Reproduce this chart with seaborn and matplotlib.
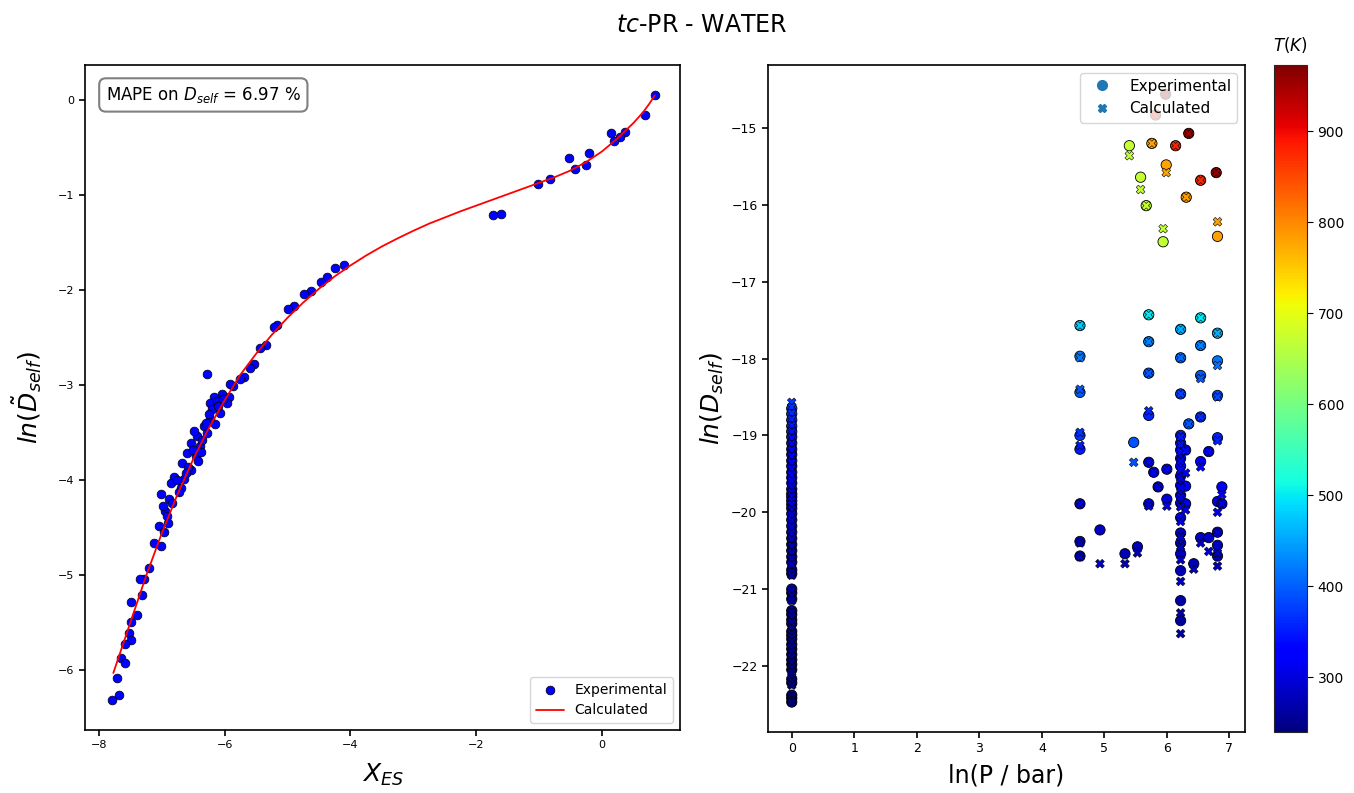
import numpy as np
import pandas as pd
import matplotlib
matplotlib.use("Agg")
import matplotlib.pyplot as plt
from matplotlib.lines import Line2D
import seaborn as sns

# ---------------- Left panel data ----------------
x_es_exp = [0.84, 0.68, 0.36, 0.28, 0.19, 0.14, -0.20, -0.25, -0.43, -0.53, -0.82, -1.02,
            -1.61, -1.73,
            -4.10, -4.24, -4.37, -4.47, -4.63, -4.74, -4.90, -5.00, -5.16, -5.22, -5.35, -5.43,
            -5.54, -5.59, -5.70, -5.75, -5.86, -5.91, -6.04, -5.93, -6.17, -6.23, -6.12, -5.96,
            -6.28, -6.07, -6.23, -6.15, -6.33, -6.44, -6.28, -6.54, -6.39, -6.60, -6.46, -6.68,
            -6.54, -6.81, -6.65, -6.86, -7.02, -6.70,
            -6.36, -6.50, -6.42, -6.58, -6.62, -6.75, -6.30, -6.20, -6.10, -6.02, -6.72, -6.88,
            -6.95, -6.25, -6.48, -6.38,
            -6.98, -6.83, -7.04, -6.92, -6.96, -6.90, -7.13, -7.01, -7.20, -7.28, -7.34, -7.31,
            -7.49, -7.40, -7.49, -7.52, -7.49, -7.59, -7.65, -7.59, -7.71, -7.68, -7.79]
ln_d_exp = [0.05, -0.16, -0.33, -0.39, -0.43, -0.35, -0.56, -0.68, -0.72, -0.61, -0.83, -0.88,
            -1.20, -1.21,
            -1.74, -1.77, -1.86, -1.91, -2.01, -2.04, -2.17, -2.20, -2.37, -2.39, -2.58, -2.61,
            -2.78, -2.82, -2.91, -2.94, -3.01, -2.99, -3.09, -3.12, -3.12, -3.19, -3.17, -3.19,
            -2.88, -3.29, -3.36, -3.41, -3.43, -3.54, -3.50, -3.61, -3.64, -3.71, -3.75, -3.82,
            -3.89, -3.97, -3.99, -4.03, -4.15, -4.08,
            -3.58, -3.68, -3.80, -3.86, -3.93, -4.00, -3.40, -3.25, -3.22, -3.15, -4.12, -4.20,
            -4.32, -3.30, -3.48, -3.70,
            -4.27, -4.24, -4.48, -4.38, -4.55, -4.45, -4.66, -4.69, -4.92, -5.04, -5.04, -5.21,
            -5.28, -5.42, -5.49, -5.61, -5.68, -5.73, -5.87, -5.93, -6.08, -6.26, -6.31]

x_es_calc = [-7.77, -7.50, -7.25, -7.00, -6.75, -6.50, -6.25, -6.00, -5.75, -5.50, -5.25,
             -5.00, -4.75, -4.50, -4.25, -4.00, -3.75, -3.50, -3.25, -3.00, -2.75, -2.50,
             -2.25, -2.00, -1.75, -1.50, -1.25, -1.00, -0.75, -0.50, -0.25, 0.00, 0.25,
             0.50, 0.65, 0.75, 0.84]
ln_d_calc = [-6.03, -5.50, -5.01, -4.56, -4.15, -3.78, -3.45, -3.16, -2.89, -2.67, -2.47,
             -2.29, -2.13, -1.985, -1.855, -1.74, -1.635, -1.54, -1.455, -1.375, -1.30, -1.235,
             -1.17, -1.11, -1.05, -0.99, -0.93, -0.87, -0.81, -0.74, -0.65, -0.54, -0.40,
             -0.24, -0.13, -0.04, 0.05]

# ---------------- Right panel data ----------------
ln_p = ([0.0] * 52 +
        [4.61] * 8 + [4.93, 5.33, 5.53, 5.47] +
        [5.71] * 6 + [5.79, 5.86, 6.00, 6.00] +
        [6.22] * 19 + [6.35, 6.30, 6.30, 6.30, 6.43] +
        [6.54] * 6 + [6.67, 6.67] +
        [6.81] * 8 + [6.88, 6.88] +
        [5.40, 5.76, 6.14, 6.35, 5.99, 5.58, 6.79, 6.54, 6.31, 5.67, 5.94, 6.81, 5.98, 5.82])
temp_k = ([373, 368, 362, 356, 350, 345, 338, 333, 328, 323, 318, 313, 308, 305, 301, 298, 298,
           298, 298, 293, 290, 287, 284, 281, 279, 277, 275, 273, 272, 270, 268, 263, 262, 260,
           257, 256, 254, 253, 251, 250, 249, 248, 247, 246, 245, 244, 243, 242, 241, 240, 240, 240] +
          [480, 420, 395, 370, 350, 305, 280, 275] + [285, 275, 280, 390] +
          [500, 425, 395, 360, 320, 300] + [310, 300, 315, 298] +
          [460, 410, 380, 350, 345, 340, 330, 325, 318, 312, 308, 303, 298, 290, 285, 280, 275, 265, 260] +
          [395, 340, 320, 305, 280] +
          [500, 425, 395, 365, 330, 290] + [320, 290] +
          [460, 415, 385, 355, 305, 290, 282, 278] + [320, 310] +
          [670, 780, 880, 960, 780, 670, 958, 878, 785, 670, 668, 782, 965, 885])
ln_dself_exp = ([-18.65, -18.72, -18.80, -18.88, -18.95, -19.02, -19.10, -19.18, -19.25, -19.33,
                 -19.40, -19.48, -19.55, -19.62, -19.70, -19.76, -19.80, -19.85, -19.90, -19.95,
                 -20.02, -20.10, -20.18, -20.26, -20.34, -20.42, -20.50, -20.58, -20.65, -20.75,
                 -20.80, -21.00, -21.05, -21.13, -21.28, -21.33, -21.40, -21.45, -21.55, -21.60,
                 -21.65, -21.72, -21.78, -21.85, -21.92, -21.98, -22.05, -22.17, -22.22, -22.38,
                 -22.42, -22.47] +
                [-17.57, -17.97, -18.44, -19.00, -19.18, -19.89, -20.38, -20.57] +
                [-20.23, -20.54, -20.45, -19.09] +
                [-17.43, -17.78, -18.19, -18.74, -19.35, -19.89] + [-19.48, -19.67, -19.44, -19.83] +
                [-17.62, -17.99, -18.46, -19.00, -19.10, -19.19, -19.30, -19.40, -19.53, -19.65,
                 -19.78, -19.88, -20.07, -20.27, -20.40, -20.54, -20.76, -21.15, -21.41] +
                [-18.85, -19.19, -19.66, -19.89, -20.67] +
                [-17.47, -17.83, -18.22, -18.76, -19.34, -20.33] + [-19.21, -20.33] +
                [-17.67, -18.03, -18.48, -19.03, -19.86, -20.26, -20.43, -20.57] + [-19.67, -19.89] +
                [-15.23, -15.20, -15.23, -15.07, -15.48, -15.64, -15.58, -15.68, -15.90, -16.01,
                 -16.48, -16.41, -14.56, -14.83])
ln_dself_calc = ([-18.57, -18.63, -18.71, -18.79, -18.87, -18.95, -19.03, -19.11, -19.19, -19.27,
                  -19.35, -19.43, -19.51, -19.59, -19.67, -19.74, -19.79, -19.85, -19.90, -19.96,
                  -20.03, -20.11, -20.19, -20.27, -20.35, -20.44, -20.52, -20.60, -20.68, -20.78,
                  -20.82, -21.02, -21.08, -21.15, -21.30, -21.36, -21.43, -21.50, -21.58, -21.63,
                  -21.68, -21.75, -21.82, -21.88, -21.95, -22.02, -22.08, -22.20, -22.25, -22.40,
                  -22.44, -22.47] +
                 [-17.57, -17.99, -18.40, -18.96, -19.13, -19.89, -20.40, -20.58] +
                 [-20.67, -20.67, -20.53, -19.35] +
                 [-17.43, -17.78, -18.19, -18.68, -19.35, -19.92] + [-19.48, -19.67, -19.44, -19.92] +
                 [-17.62, -17.99, -18.46, -19.02, -19.12, -19.21, -19.33, -19.45, -19.56, -19.68,
                  -19.80, -19.93, -20.12, -20.32, -20.45, -20.62, -20.90, -21.31, -21.58] +
                 [-18.85, -19.20, -19.49, -19.97, -20.74] +
                 [-17.47, -17.83, -18.26, -18.76, -19.41, -20.40] + [-19.21, -20.51] +
                 [-17.67, -18.09, -18.50, -19.07, -20.00, -20.26, -20.53, -20.70] + [-19.77, -19.89] +
                 [-15.36, -15.20, -15.23, -15.07, -15.58, -15.80, -15.58, -15.68, -15.90, -16.01,
                  -16.31, -16.22, -14.56, -14.83])

# ---------------- Figure ----------------
sns.set_style("ticks")
plt.rcParams["font.family"] = ["DejaVu Sans"]
plt.rcParams["mathtext.fontset"] = "dejavusans"
plt.rcParams["text.color"] = "black"
plt.rcParams["axes.labelcolor"] = "black"
plt.rcParams["xtick.color"] = "black"
plt.rcParams["ytick.color"] = "black"

jet = matplotlib.colormaps["jet"]
t_norm = plt.Normalize(240, 973)

fig = plt.figure(figsize=(13.54, 7.93), dpi=100)
ax1 = fig.add_axes([0.0628, 0.0795, 0.4394, 0.8385])
ax2 = fig.add_axes([0.5672, 0.0769, 0.3523, 0.8411])
cax = fig.add_axes([0.941, 0.0769, 0.0244, 0.8411])

fig.text(0.518, 0.968, r"$\it{tc}$-PR - WATER", ha="center", va="center", fontsize=17)

# Left panel
left_exp = pd.DataFrame({"x": x_es_exp, "y": ln_d_exp})
left_calc = pd.DataFrame({"x": x_es_calc, "y": ln_d_calc})
sns.scatterplot(data=left_exp, x="x", y="y", ax=ax1, color="#0000ff", edgecolor="black",
                linewidth=0.5, s=40, zorder=2, label="Experimental")
sns.lineplot(data=left_calc, x="x", y="y", ax=ax1, color="red", linewidth=1.3, sort=False,
             estimator=None, zorder=3, label="Calculated")
ax1.set_xlim(-8.22, 1.24)
ax1.set_ylim(-6.63, 0.37)
ax1.set_xticks([-8, -6, -4, -2, 0])
ax1.set_yticks([0, -1, -2, -3, -4, -5, -6])
ax1.tick_params(labelsize=8, length=4, width=1.2)
ax1.set_xlabel(r"$X_{ES}$", fontsize=18, labelpad=8)
ax1.set_ylabel(r"$ln(\tilde{D}_{self})$", fontsize=18, labelpad=10)
ax1.text(0.035, 0.955, r"MAPE on $D_{self}$ = 6.97 %", transform=ax1.transAxes, fontsize=12,
         va="center", ha="left",
         bbox=dict(boxstyle="round,pad=0.4", facecolor="white", edgecolor="gray", linewidth=1.5))
ax1.legend(loc="lower right", fontsize=10, frameon=True)

# Right panel
right_df = pd.DataFrame({"lnP": ln_p, "T": temp_k, "exp": ln_dself_exp, "calc": ln_dself_calc})
sns.scatterplot(data=right_df, x="lnP", y="exp", hue="T", palette=jet, hue_norm=t_norm,
                marker="o", s=55, edgecolor="black", linewidth=0.6, ax=ax2, legend=False, zorder=2)
sns.scatterplot(data=right_df, x="lnP", y="calc", hue="T", palette=jet, hue_norm=t_norm,
                marker="X", s=40, edgecolor="black", linewidth=0.4, ax=ax2, legend=False, zorder=3)
ax2.set_xlim(-0.38, 7.25)
ax2.set_ylim(-22.86, -14.18)
ax2.set_xticks(range(0, 8))
ax2.set_yticks([-15, -16, -17, -18, -19, -20, -21, -22])
ax2.tick_params(labelsize=9, length=4, width=1.2)
ax2.set_xlabel("ln(P / bar)", fontsize=17, labelpad=6)
ax2.set_ylabel(r"$ln(D_{self})$", fontsize=18)
handles = [Line2D([], [], marker="o", linestyle="", color="#1f77b4", markersize=7),
           Line2D([], [], marker="X", linestyle="", color="#1f77b4", markersize=6)]
ax2.legend(handles, ["Experimental", "Calculated"], loc="upper right", fontsize=11, frameon=True)

for ax in (ax1, ax2):
    for sp in ax.spines.values():
        sp.set_visible(True)
        sp.set_linewidth(1.2)
        sp.set_color("black")

sm = plt.cm.ScalarMappable(cmap=jet, norm=t_norm)
cb = fig.colorbar(sm, cax=cax)
cb.set_ticks([300, 400, 500, 600, 700, 800, 900])
cb.ax.tick_params(labelsize=10, length=4)
cax.set_title(r"$T(K)$", fontsize=12, pad=10)

fig.savefig("out.png", dpi=100)
